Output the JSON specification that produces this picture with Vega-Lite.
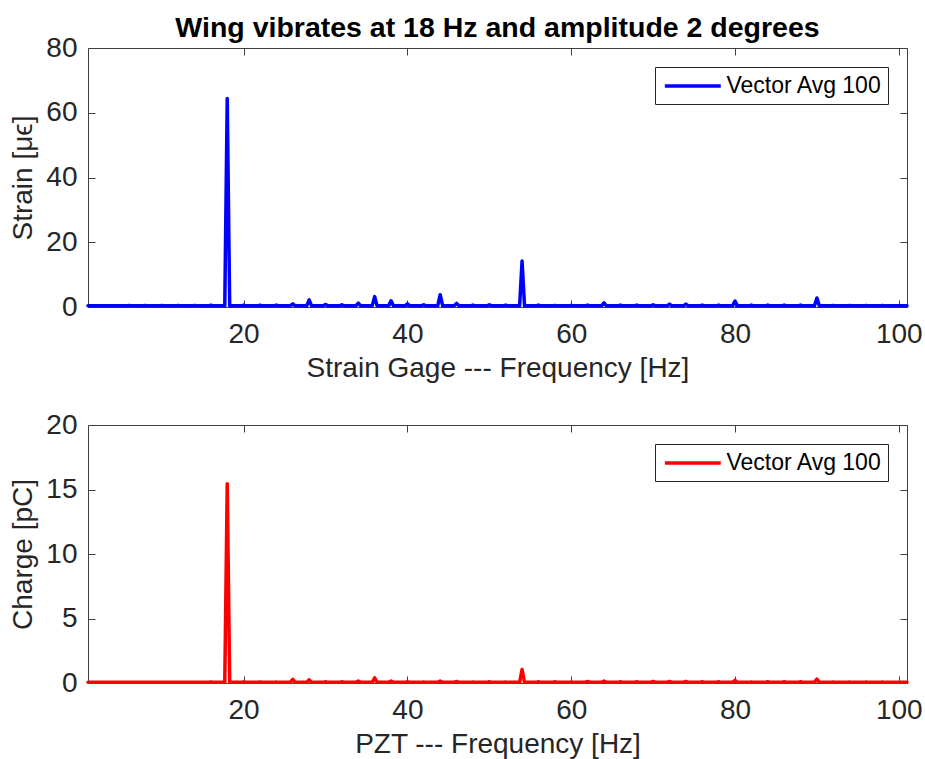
{
  "$schema": "https://vega.github.io/schema/vega-lite/v6.json",
  "background": "white",
  "padding": {"left": 9, "top": 13, "right": 10, "bottom": 5},
  "config": {
    "view": {"stroke": null},
    "font": "Liberation Sans",
    "axis": {
      "grid": false,
      "domainColor": "#404040",
      "domainWidth": 1,
      "tickColor": "#404040",
      "tickSize": -7,
      "tickWidth": 1,
      "labelColor": "#262626",
      "labelFont": "Liberation Sans",
      "labelFontSize": 28,
      "titleColor": "#262626",
      "titleFont": "Liberation Sans",
      "titleFontSize": 28,
      "titleFontWeight": "normal"
    },
    "legend": {
      "labelFont": "Liberation Sans",
      "labelFontSize": 23,
      "labelColor": "#000000",
      "strokeColor": "#262626",
      "fillColor": "white",
      "padding": 6,
      "symbolType": "M-2.5,0H2.5",
      "symbolStrokeWidth": 3.5,
      "symbolSize": 500,
      "symbolOffset": 18.8,
      "labelOffset": 20.6,
      "orient": "top-right",
      "offset": 19,
      "title": null
    }
  },
  "data": {
    "values": [
      {"f": 1, "s": 0.35, "c": 0.05},
      {"f": 5.7, "s": 0.35, "c": 0.05}, {"f": 6, "s": 0.5, "c": 0.06}, {"f": 6.3, "s": 0.35, "c": 0.05},
      {"f": 7.7, "s": 0.35, "c": 0.05}, {"f": 8, "s": 0.5, "c": 0.06}, {"f": 8.3, "s": 0.35, "c": 0.05},
      {"f": 9.7, "s": 0.35, "c": 0.05}, {"f": 10, "s": 0.5, "c": 0.06}, {"f": 10.3, "s": 0.35, "c": 0.05},
      {"f": 11.7, "s": 0.35, "c": 0.05}, {"f": 12, "s": 0.5, "c": 0.06}, {"f": 12.3, "s": 0.35, "c": 0.05},
      {"f": 13.7, "s": 0.35, "c": 0.05}, {"f": 14, "s": 0.5, "c": 0.06}, {"f": 14.3, "s": 0.35, "c": 0.05},
      {"f": 15.7, "s": 0.35, "c": 0.05}, {"f": 16, "s": 0.55, "c": 0.07}, {"f": 16.3, "s": 0.35, "c": 0.05},
      {"f": 17.7, "s": 0.35, "c": 0.05}, {"f": 18, "s": 64.4, "c": 15.45}, {"f": 18.3, "s": 0.35, "c": 0.05},
      {"f": 19.7, "s": 0.35, "c": 0.05}, {"f": 20, "s": 0.55, "c": 0.07}, {"f": 20.3, "s": 0.35, "c": 0.05},
      {"f": 21.7, "s": 0.35, "c": 0.05}, {"f": 22, "s": 0.55, "c": 0.07}, {"f": 22.3, "s": 0.35, "c": 0.05},
      {"f": 23.7, "s": 0.35, "c": 0.05}, {"f": 24, "s": 0.6, "c": 0.08}, {"f": 24.3, "s": 0.35, "c": 0.05},
      {"f": 25.7, "s": 0.35, "c": 0.05}, {"f": 26, "s": 1.0, "c": 0.28}, {"f": 26.3, "s": 0.35, "c": 0.05},
      {"f": 27.7, "s": 0.35, "c": 0.05}, {"f": 28, "s": 2.2, "c": 0.25}, {"f": 28.3, "s": 0.35, "c": 0.05},
      {"f": 29.7, "s": 0.35, "c": 0.05}, {"f": 30, "s": 0.8, "c": 0.1}, {"f": 30.3, "s": 0.35, "c": 0.05},
      {"f": 31.7, "s": 0.35, "c": 0.05}, {"f": 32, "s": 0.7, "c": 0.1}, {"f": 32.3, "s": 0.35, "c": 0.05},
      {"f": 33.7, "s": 0.35, "c": 0.05}, {"f": 34, "s": 1.2, "c": 0.15}, {"f": 34.3, "s": 0.35, "c": 0.05},
      {"f": 35.7, "s": 0.35, "c": 0.05}, {"f": 36, "s": 3.2, "c": 0.4}, {"f": 36.3, "s": 0.35, "c": 0.05},
      {"f": 37.7, "s": 0.35, "c": 0.05}, {"f": 38, "s": 1.9, "c": 0.15}, {"f": 38.3, "s": 0.35, "c": 0.05},
      {"f": 39.7, "s": 0.35, "c": 0.05}, {"f": 40, "s": 1.0, "c": 0.1}, {"f": 40.3, "s": 0.35, "c": 0.05},
      {"f": 41.7, "s": 0.35, "c": 0.05}, {"f": 42, "s": 0.7, "c": 0.08}, {"f": 42.3, "s": 0.35, "c": 0.05},
      {"f": 43.7, "s": 0.35, "c": 0.05}, {"f": 44, "s": 3.8, "c": 0.15}, {"f": 44.3, "s": 0.35, "c": 0.05},
      {"f": 45.7, "s": 0.35, "c": 0.05}, {"f": 46, "s": 1.1, "c": 0.12}, {"f": 46.3, "s": 0.35, "c": 0.05},
      {"f": 47.7, "s": 0.35, "c": 0.05}, {"f": 48, "s": 0.6, "c": 0.08}, {"f": 48.3, "s": 0.35, "c": 0.05},
      {"f": 49.7, "s": 0.35, "c": 0.05}, {"f": 50, "s": 0.7, "c": 0.1}, {"f": 50.3, "s": 0.35, "c": 0.05},
      {"f": 51.7, "s": 0.35, "c": 0.05}, {"f": 52, "s": 0.6, "c": 0.08}, {"f": 52.3, "s": 0.35, "c": 0.05},
      {"f": 53.7, "s": 0.35, "c": 0.05}, {"f": 54, "s": 14.2, "c": 1.05}, {"f": 54.3, "s": 0.35, "c": 0.05},
      {"f": 55.7, "s": 0.35, "c": 0.05}, {"f": 56, "s": 0.6, "c": 0.1}, {"f": 56.3, "s": 0.35, "c": 0.05},
      {"f": 57.7, "s": 0.35, "c": 0.05}, {"f": 58, "s": 0.5, "c": 0.1}, {"f": 58.3, "s": 0.35, "c": 0.05},
      {"f": 59.7, "s": 0.35, "c": 0.05}, {"f": 60, "s": 0.5, "c": 0.08}, {"f": 60.3, "s": 0.35, "c": 0.05},
      {"f": 61.7, "s": 0.35, "c": 0.05}, {"f": 62, "s": 0.6, "c": 0.12}, {"f": 62.3, "s": 0.35, "c": 0.05},
      {"f": 63.7, "s": 0.35, "c": 0.05}, {"f": 64, "s": 1.3, "c": 0.15}, {"f": 64.3, "s": 0.35, "c": 0.05},
      {"f": 65.7, "s": 0.35, "c": 0.05}, {"f": 66, "s": 0.6, "c": 0.1}, {"f": 66.3, "s": 0.35, "c": 0.05},
      {"f": 67.7, "s": 0.35, "c": 0.05}, {"f": 68, "s": 0.6, "c": 0.1}, {"f": 68.3, "s": 0.35, "c": 0.05},
      {"f": 69.7, "s": 0.35, "c": 0.05}, {"f": 70, "s": 0.7, "c": 0.12}, {"f": 70.3, "s": 0.35, "c": 0.05},
      {"f": 71.7, "s": 0.35, "c": 0.05}, {"f": 72, "s": 0.9, "c": 0.12}, {"f": 72.3, "s": 0.35, "c": 0.05},
      {"f": 73.7, "s": 0.35, "c": 0.05}, {"f": 74, "s": 0.9, "c": 0.12}, {"f": 74.3, "s": 0.35, "c": 0.05},
      {"f": 75.7, "s": 0.35, "c": 0.05}, {"f": 76, "s": 0.6, "c": 0.1}, {"f": 76.3, "s": 0.35, "c": 0.05},
      {"f": 77.7, "s": 0.35, "c": 0.05}, {"f": 78, "s": 0.6, "c": 0.1}, {"f": 78.3, "s": 0.35, "c": 0.05},
      {"f": 79.7, "s": 0.35, "c": 0.05}, {"f": 80, "s": 1.8, "c": 0.2}, {"f": 80.3, "s": 0.35, "c": 0.05},
      {"f": 81.7, "s": 0.35, "c": 0.05}, {"f": 82, "s": 0.6, "c": 0.08}, {"f": 82.3, "s": 0.35, "c": 0.05},
      {"f": 83.7, "s": 0.35, "c": 0.05}, {"f": 84, "s": 0.6, "c": 0.1}, {"f": 84.3, "s": 0.35, "c": 0.05},
      {"f": 85.7, "s": 0.35, "c": 0.05}, {"f": 86, "s": 0.6, "c": 0.1}, {"f": 86.3, "s": 0.35, "c": 0.05},
      {"f": 87.7, "s": 0.35, "c": 0.05}, {"f": 88, "s": 0.6, "c": 0.1}, {"f": 88.3, "s": 0.35, "c": 0.05},
      {"f": 89.7, "s": 0.35, "c": 0.05}, {"f": 90, "s": 2.8, "c": 0.3}, {"f": 90.3, "s": 0.35, "c": 0.05},
      {"f": 91.7, "s": 0.35, "c": 0.05}, {"f": 92, "s": 0.5, "c": 0.08}, {"f": 92.3, "s": 0.35, "c": 0.05},
      {"f": 93.7, "s": 0.35, "c": 0.05}, {"f": 94, "s": 0.5, "c": 0.08}, {"f": 94.3, "s": 0.35, "c": 0.05},
      {"f": 95.7, "s": 0.35, "c": 0.05}, {"f": 96, "s": 0.5, "c": 0.08}, {"f": 96.3, "s": 0.35, "c": 0.05},
      {"f": 97.7, "s": 0.35, "c": 0.05}, {"f": 98, "s": 0.5, "c": 0.08}, {"f": 98.3, "s": 0.35, "c": 0.05},
      {"f": 101, "s": 0.35, "c": 0.05}
    ]
  },
  "resolve": {"scale": {"color": "independent"}},
  "spacing": 29,
  "vconcat": [
    {
      "width": 819,
      "height": 259,
      "title": {
        "text": "Wing vibrates at 18 Hz and amplitude 2 degrees",
        "frame": "group",
        "anchor": "middle",
        "font": "Liberation Sans",
        "fontSize": 28.5,
        "fontWeight": "bold",
        "color": "#000000",
        "offset": -8
      },
      "resolve": {"axis": {"x": "independent", "y": "independent"}},
      "layer": [
        {
          "mark": {"type": "line", "strokeWidth": 3.5, "strokeJoin": "round", "strokeCap": "round"},
          "encoding": {
            "x": {"field": "f", "type": "quantitative", "scale": {"domain": [1, 101], "nice": false, "zero": false},
                  "axis": {"orient": "bottom", "values": [20, 40, 60, 80, 100], "title": "Strain Gage --- Frequency [Hz]", "labelPadding": 20, "titlePadding": 6}},
            "y": {"field": "s", "type": "quantitative", "scale": {"domain": [0, 80], "nice": false},
                  "axis": {"orient": "left", "values": [0, 20, 40, 60, 80], "title": "Strain [μϵ]", "labelPadding": 18, "titlePadding": 8}},
            "color": {"datum": "Vector Avg 100", "type": "nominal", "scale": {"range": ["#0000ff"]}}
          }
        },
        {
          "mark": {"type": "line", "opacity": 0},
          "encoding": {
            "x": {"field": "f", "type": "quantitative", "axis": {"orient": "top", "values": [20, 40, 60, 80, 100], "labels": false, "title": null}},
            "y": {"field": "s", "type": "quantitative", "axis": {"orient": "right", "values": [0, 20, 40, 60, 80], "labels": false, "title": null}}
          }
        }
      ]
    },
    {
      "width": 819,
      "height": 258,
      "resolve": {"axis": {"x": "independent", "y": "independent"}},
      "layer": [
        {
          "mark": {"type": "line", "strokeWidth": 3.5, "strokeJoin": "round", "strokeCap": "round"},
          "encoding": {
            "x": {"field": "f", "type": "quantitative", "scale": {"domain": [1, 101], "nice": false, "zero": false},
                  "axis": {"orient": "bottom", "values": [20, 40, 60, 80, 100], "title": "PZT --- Frequency [Hz]", "labelPadding": 20, "titlePadding": 6}},
            "y": {"field": "c", "type": "quantitative", "scale": {"domain": [0, 20], "nice": false},
                  "axis": {"orient": "left", "values": [0, 5, 10, 15, 20], "title": "Charge [pC]", "labelPadding": 18, "titlePadding": 8}},
            "color": {"datum": "Vector Avg 100", "type": "nominal", "scale": {"range": ["#ff0000"]}}
          }
        },
        {
          "mark": {"type": "line", "opacity": 0},
          "encoding": {
            "x": {"field": "f", "type": "quantitative", "axis": {"orient": "top", "values": [20, 40, 60, 80, 100], "labels": false, "title": null}},
            "y": {"field": "c", "type": "quantitative", "axis": {"orient": "right", "values": [0, 5, 10, 15, 20], "labels": false, "title": null}}
          }
        }
      ]
    }
  ]
}
